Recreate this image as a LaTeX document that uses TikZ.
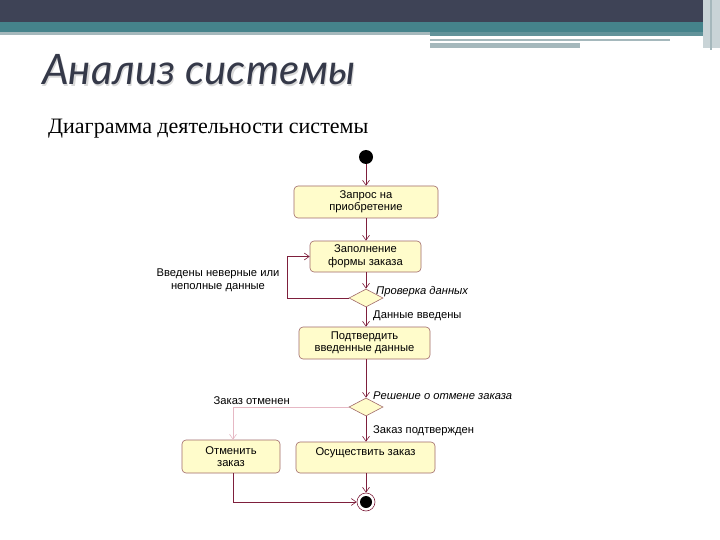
\documentclass[tikz,border=0pt]{standalone}
\usepackage{fontspec}
\setmainfont{Liberation Serif}
\newfontfamily\boxfont{Liberation Sans}
\newfontfamily\titlefont{Lato}
\usetikzlibrary{shapes.geometric,arrows.meta}
\definecolor{hdark}{HTML}{3E4356}
\definecolor{hteal}{HTML}{45838B}
\definecolor{hgrey}{HTML}{A5B8BC}
\definecolor{boxfill}{HTML}{FFFCCB}
\definecolor{boxline}{HTML}{A06A6A}
\definecolor{conn}{HTML}{7E1F3C}
\definecolor{connlight}{HTML}{E6B8C4}
\begin{document}
\begin{tikzpicture}[x=1pt,y=-1pt,
  act/.style={draw=boxline,fill=boxfill,rounded corners=4pt,font=\boxfont\fontsize{11.2}{12.5}\selectfont,align=center,inner sep=0pt,line width=0.6pt},
  dec/.style={diamond,draw=boxline,fill=boxfill,minimum width=34pt,minimum height=18pt,inner sep=0pt,aspect=1.9,line width=0.6pt},
  flow/.style={draw=conn,line width=0.6pt,-{Straight Barb[length=5pt,width=7pt]}},
  lbl/.style={font=\boxfont\fontsize{11.2}{12.5}\selectfont,text=black,inner sep=1pt},
  ilbl/.style={font=\boxfont\itshape\fontsize{11.2}{12.5}\selectfont,text=black,inner sep=1pt}]
\useasboundingbox (0,0) rectangle (720,540);
\fill[white] (0,0) rectangle (720,540);
% header
\fill[hdark] (0,0) rectangle (720,22);
\fill[hteal] (0,22) rectangle (720,32);
\fill[hgrey] (0,32) rectangle (430,35);
\fill[hteal!70!hgrey] (430,32) rectangle (710,36);
\fill[hgrey] (430,39) rectangle (670,41);
\fill[hgrey] (430,43) rectangle (580,48);
\fill[hgrey!60] (703,0) rectangle (720,48);
\fill[hgrey] (710,0) rectangle (712,50);
% titles
\node[anchor=base west,inner sep=0pt,text=black!15,font=\titlefont\itshape\fontsize{42}{45}\selectfont] (shadow) at (43.2,86.2) {Анализ системы};
\node[anchor=base west,inner sep=0pt,text=hdark!85!black,font=\titlefont\itshape\fontsize{42}{45}\selectfont] (title) at (42,85) {Анализ системы};
\node[anchor=base west,inner sep=0pt,font=\fontsize{22}{25}\selectfont] (sub) at (48,134) {Диаграмма деятельности системы};
% diagram
\node[circle,fill=black,minimum size=14pt,inner sep=0pt] (start) at (366,157) {};
\node[act,minimum width=144pt,minimum height=32pt] (a1) at (366,202) {Запрос на\\приобретение};
\node[act,minimum width=111pt,minimum height=31pt] (a2) at (365.5,256.5) {Заполнение\\формы заказа};
\node[dec] (d1) at (366,298) {};
\node[act,minimum width=131pt,minimum height=32pt] (a3) at (364.5,343) {Подтвердить\\введенные данные};
\node[dec] (d2) at (366,407) {};
\node[act,minimum width=98pt,minimum height=33pt] (a4) at (231,456.5) {Отменить\\заказ};
\node[act,minimum width=139pt,minimum height=31pt,text depth=12pt] (a5) at (365.5,457.5) {Осуществить заказ};
\node[circle,draw=conn,line width=0.6pt,minimum size=18pt,inner sep=0pt] (endo) at (366,502) {};
\node[circle,fill=black,minimum size=12pt,inner sep=0pt] (endi) at (366,502) {};
\coordinate (l1) at (287,298);
\coordinate (l2) at (287,256.5);
\coordinate (c1) at (233,407);
\coordinate (c2) at (233,502);
% connectors
\draw[flow] (start) -- (a1.north -| start);
\draw[flow] (a1.south -| start) -- (a2.north -| start);
\draw[flow] (a2.south -| start) -- (d1.north);
\draw[flow] (d1.west) -- (l1) -- (l2) -- (a2.west);
\draw[flow] (d1.south) -- (a3.north -| d1);
\draw[flow] (a3.south -| d2) -- (d2.north);
\draw[flow,draw=connlight] (d2.west) -- (c1) -- (a4.north -| c1);
\draw[flow] (d2.south) -- (a5.north -| d2);
\draw[flow] (a5.south -| d2) -- (endo.north);
\draw[flow] (a4.south -| c2) -- (c2) -- (endo.west);
% labels
\node[lbl,align=center] (t1) at (218,280.5) {Введены неверные или\\неполные данные};
\node[ilbl,anchor=west] (t2) at (375,292) {Проверка данных};
\node[lbl,anchor=west] (t3) at (372,316) {Данные введены};
\node[ilbl,anchor=west] (t4) at (372,396) {Решение о отмене заказа};
\node[lbl,anchor=east] (t5) at (291,401) {Заказ отменен};
\node[lbl,anchor=west] (t6) at (372,431) {Заказ подтвержден};
\end{tikzpicture}
\end{document}
